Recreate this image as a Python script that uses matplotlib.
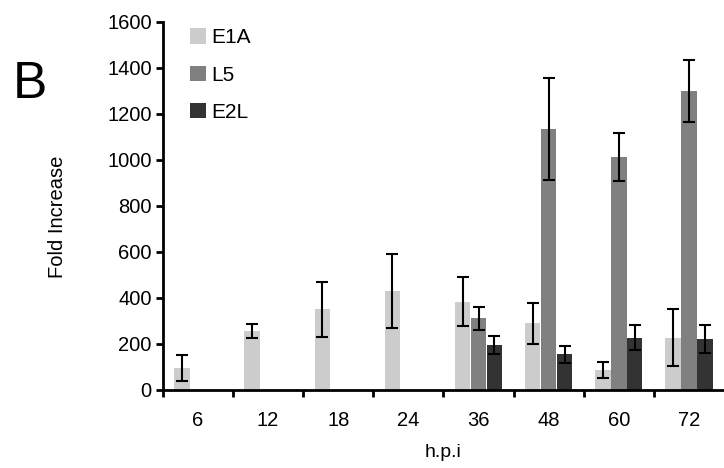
import numpy as np
import matplotlib
matplotlib.use('Agg')
import matplotlib.pyplot as plt

plt.rcParams['font.family'] = ['Liberation Sans', 'DejaVu Sans']

# data
hpi = ['6', '12', '18', '24', '36', '48', '60', '72']
e1a = [95, 255, 350, 430, 384, 289, 87, 227]
e1a_err = [55, 30, 120, 160, 108, 88, 36, 125]
l5 = [np.nan, np.nan, np.nan, np.nan, 311, 1133, 1012, 1301]
l5_err = [np.nan, np.nan, np.nan, np.nan, 50, 222, 105, 134]
e2l = [np.nan, np.nan, np.nan, np.nan, 196, 154, 227, 220]
e2l_err = [np.nan, np.nan, np.nan, np.nan, 38, 37, 53, 60]

series = [('E1A', e1a, e1a_err, '#cccccc'),
          ('L5', l5, l5_err, '#808080'),
          ('E2L', e2l, e2l_err, '#333333')]

fig = plt.figure(figsize=(7.24, 4.68), dpi=100)
ax = fig.add_axes([0.225, 0.167, 0.775, 0.786])

x = np.arange(len(hpi)) + 0.5
width = 0.22
offsets = [-0.227, 0.0, 0.227]

for (name, vals, errs, col), off in zip(series, offsets):
    ax.bar(x + off, vals, width, color=col, label=name, edgecolor='none')
    ax.errorbar(x + off, vals, yerr=errs, fmt='none', ecolor='black',
                elinewidth=1.5, capsize=4.5, capthick=1.5)

ax.set_xlim(0, len(hpi))
ax.set_ylim(0, 1600)
ax.set_yticks(range(0, 1601, 200))
ax.set_xticks(x)
ax.set_xticklabels(hpi)
ax.set_xticks(np.arange(0, len(hpi)), minor=True)
ax.tick_params(axis='x', which='major', length=0, pad=15, labelsize=14.5)
ax.tick_params(axis='x', which='minor', length=5, width=2, direction='out')
ax.tick_params(axis='y', length=5, width=2, direction='out', labelsize=14.5, pad=3)

for s in ['top', 'right']:
    ax.spines[s].set_visible(False)
for s in ['left', 'bottom']:
    ax.spines[s].set_linewidth(2)

ax.set_xlabel('h.p.i', fontsize=14, labelpad=10)
fig.text(0.0794, 0.536, 'Fold Increase', fontsize=14.5, rotation=90,
         ha='center', va='center')

ax.legend(loc='upper left', bbox_to_anchor=(0.248, 0.962),
          bbox_transform=fig.transFigure, frameon=False, fontsize=15,
          handlelength=0.77, handleheight=0.77, handletextpad=0.25,
          labelspacing=0.88, borderpad=0)

fig.text(0.018, 0.79, 'B', fontsize=37)

fig.savefig('out.png', dpi=100)
